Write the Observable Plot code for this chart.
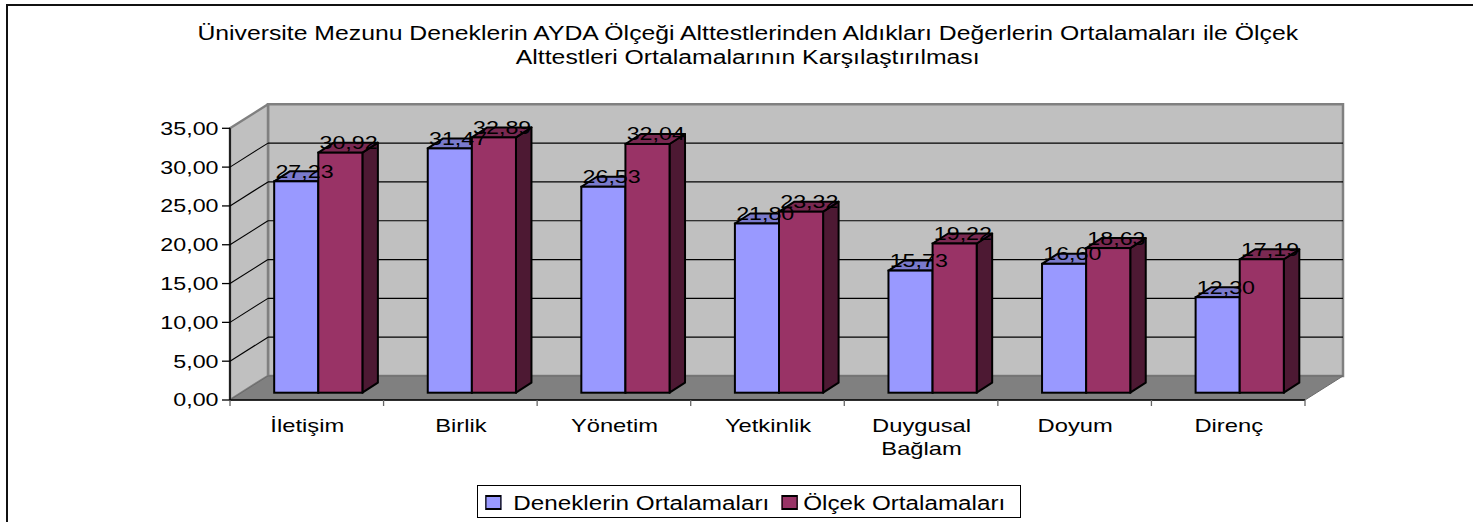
<!DOCTYPE html>
<html>
<head>
<meta charset="utf-8">
<script src="https://cdn.jsdelivr.net/npm/d3@7"></script>
<script src="https://cdn.jsdelivr.net/npm/@observablehq/plot@0.6"></script>
<style>
  html, body { margin: 0; padding: 0; background: #fff; overflow: hidden; width: 1473px; height: 522px; }
  #frame { position: absolute; left: 6px; top: 4px; width: 1490px; height: 560px; border: 2px solid #111; box-sizing: border-box; }
  #title { position: absolute; left: 0; top: 20.5px; width: 1496px; text-align: center;
           font-family: "Liberation Sans", Arial, sans-serif; font-size: 19.5px; line-height: 24.5px; color: #000;
           transform: scaleX(1.27); transform-origin: 749px 0; }
  #chart { position: absolute; left: 0; top: 80px; }
  #legend { position: absolute; left: 477px; top: 485px; width: 544px; height: 33px; border: 1px solid #000; box-sizing: border-box; background: #fff; }
  #legend .inner { position: absolute; left: 6px; top: 0; width: 440px; height: 31px; transform: scaleX(1.25); transform-origin: 0 0;
                   font-family: "Liberation Sans", Arial, sans-serif; font-size: 19.4px; color: #000; }
  #legend .sw { position: absolute; top: 9px; width: 13.6px; height: 15px; box-sizing: border-box; border-style: solid; border-color: #000; border-width: 2px 1.6px; }
  #legend .lab { position: absolute; top: 6.4px; line-height: 22px; white-space: nowrap; }
</style>
</head>
<body>
<div id="frame"></div>
<div id="title"></div>
<div id="chart"></div>
<div id="legend"><div class="inner"></div></div>
<script>
// ---------- data ----------
const titleLines = [
  "Üniversite Mezunu Deneklerin AYDA Ölçeği Alttestlerinden Aldıkları Değerlerin Ortalamaları ile Ölçek",
  "Alttestleri Ortalamalarının Karşılaştırılması"
];
const categories = ["İletişim", "Birlik", "Yönetim", "Yetkinlik", "Duygusal Bağlam", "Doyum", "Direnç"];
const categoryLabels = ["İletişim", "Birlik", "Yönetim", "Yetkinlik", "Duygusal\nBağlam", "Doyum", "Direnç"];
const seriesNames = ["Deneklerin Ortalamaları", "Ölçek Ortalamaları"];
const deneklerin = [27.23, 31.47, 26.53, 21.80, 15.73, 16.60, 12.30];
const olcek = [30.92, 32.89, 32.04, 23.32, 19.22, 18.63, 17.19];
const yTicks = [0, 5, 10, 15, 20, 25, 30, 35];

// ---------- styling / layout ----------
const W = 1473, H = 400, ML = 230, MR = 168, MT = 48.3, MB = 80;
const BACK_DX = 38, BACK_DY = -24;       // depth of the 3D box
const FRONT_DX = 11.5, FRONT_DY = -7.3;  // bar front face offset inside the box
const BAR_DX = 15.5, BAR_DY = -10;       // bar depth
const BAR_W = 44.1;
const BAND = (W - ML - MR) / categories.length;
const INSET = (BAND - 2 * BAR_W) / 2;
const STRETCH = 1.25;

const seriesStyle = [
  {values: deneklerin, front: "#9999FF", top: "#7A7ACC", side: "#4C4C80"},
  {values: olcek, front: "#993366", top: "#7A2952", side: "#4D1933"}
];
const fmt = v => v.toFixed(2).replace(".", ",");
const poly = pts => "M" + pts.map(p => p.join(",")).join("L") + "Z";

// title
document.getElementById("title").innerHTML = titleLines.join("<br>");

// legend
const inner = document.querySelector("#legend .inner");
const legendPos = [{sw: 0.8, lab: 23.4}, {sw: 237.6, lab: 255.4}];
seriesNames.forEach((name, i) => {
  const sw = document.createElement("div");
  sw.className = "sw"; sw.style.left = legendPos[i].sw + "px"; sw.style.background = seriesStyle[i].front;
  inner.appendChild(sw);
  const lab = document.createElement("div");
  lab.className = "lab"; lab.style.left = legendPos[i].lab + "px"; lab.textContent = name;
  inner.appendChild(lab);
});

// 3D box: walls, floor, gridlines, axes
function backdrop(index, scales, values, dims) {
  const {x, y} = scales;
  const x0 = dims.marginLeft, x1 = dims.width - dims.marginRight;
  const y0 = y(0), yT = y(d3.max(yTicks));
  const g = d3.create("svg:g");
  g.append("path").attr("d", poly([[x0 + BACK_DX, yT + BACK_DY], [x1 + BACK_DX, yT + BACK_DY], [x1 + BACK_DX, y0 + BACK_DY], [x0 + BACK_DX, y0 + BACK_DY]]))
    .attr("fill", "#C0C0C0").attr("stroke", "#808080").attr("stroke-width", 2.5);
  g.append("path").attr("d", poly([[x0, y0], [x0, yT], [x0 + BACK_DX, yT + BACK_DY], [x0 + BACK_DX, y0 + BACK_DY]]))
    .attr("fill", "#C0C0C0").attr("stroke", "#808080").attr("stroke-width", 2.5).attr("stroke-linejoin", "round");
  yTicks.filter(v => v > 0 && v < d3.max(yTicks)).forEach(v => {
    const yy = y(v);
    g.append("path").attr("d", `M${x0 + BACK_DX},${yy + BACK_DY}L${x1 + BACK_DX},${yy + BACK_DY}`).attr("stroke", "#000").attr("stroke-width", 1.2);
    g.append("path").attr("d", `M${x0},${yy}L${x0 + BACK_DX},${yy + BACK_DY}`).attr("stroke", "#000").attr("stroke-width", 1.1);
  });
  g.append("path").attr("d", poly([[x0, y0], [x1, y0], [x1 + BACK_DX, y0 + BACK_DY], [x0 + BACK_DX, y0 + BACK_DY]]))
    .attr("fill", "#808080").attr("stroke", "#6a6a6a").attr("stroke-width", 1);
  g.append("path").attr("d", `M${x0},${y0}L${x0},${yT}`).attr("stroke", "#000").attr("stroke-width", 1.5);
  yTicks.forEach(v => {
    g.append("path").attr("d", `M${x0 - 8},${y(v)}L${x0},${y(v)}`).attr("stroke", "#000").attr("stroke-width", 1.3);
  });
  g.append("path").attr("d", `M${x0},${y0}L${x1},${y0}`).attr("stroke", "#000").attr("stroke-width", 1.5);
  const bounds = categories.map(c => x(c)).concat([x1]);
  bounds.forEach(bx => {
    g.append("path").attr("d", `M${bx},${y0}L${bx},${y0 + 6}`).attr("stroke", "#666").attr("stroke-width", 1.3);
  });
  return g.node();
}

// bar tops and sides
function barDepth(index, scales, values, dims) {
  const {x, y} = scales;
  const g = d3.create("svg:g").attr("stroke", "#000").attr("stroke-width", 2).attr("stroke-linejoin", "round");
  seriesStyle.forEach((s, si) => {
    categories.forEach((c, i) => {
      const v = s.values[i];
      const L = x(c) + INSET + si * BAR_W + FRONT_DX, R = L + BAR_W;
      const T = y(v) + FRONT_DY, B = y(0) + FRONT_DY;
      g.append("path").attr("d", poly([[R, T], [R + BAR_DX, T + BAR_DY], [R + BAR_DX, B + BAR_DY], [R, B]])).attr("fill", s.side);
      g.append("path").attr("d", poly([[L, T], [R, T], [R + BAR_DX, T + BAR_DY], [L + BAR_DX, T + BAR_DY]])).attr("fill", s.top);
    });
  });
  return g.node();
}

const barMarks = seriesStyle.map((s, si) =>
  Plot.barY(categories, {
    x: d => d, y: (d, i) => s.values[i],
    fill: s.front, stroke: "#000", strokeWidth: 2,
    insetLeft: INSET + si * BAR_W, insetRight: INSET + (1 - si) * BAR_W,
    dx: FRONT_DX, dy: FRONT_DY
  })
);

const labelMarks = seriesStyle.map((s, si) =>
  Plot.text(categories, {
    x: d => d, y: (d, i) => s.values[i],
    text: (d, i) => fmt(s.values[i]),
    dx: (si === 0 ? -BAR_W / 2 : BAR_W / 2) + FRONT_DX + BAR_DX / 2,
    dy: FRONT_DY - 4,
    lineAnchor: "bottom", textAnchor: "middle",
    fontSize: 18.6, fill: "#000"
  })
);

const svg = Plot.plot({
  width: W, height: H,
  marginLeft: ML, marginRight: MR, marginTop: MT, marginBottom: MB,
  x: {type: "band", domain: categories, padding: 0, round: false, axis: null},
  y: {domain: [0, 35], axis: null},
  style: {fontFamily: "'Liberation Sans', Arial, sans-serif", fontSize: "19px", background: "transparent", overflow: "visible", color: "#000"},
  marks: [
    backdrop,
    barDepth,
    ...barMarks,
    ...labelMarks,
    Plot.text(yTicks, {y: d => d, frameAnchor: "left", dx: -12, textAnchor: "end", text: fmt, fontSize: 18.6, fill: "#000"}),
    Plot.text(categories, {x: d => d, frameAnchor: "bottom", text: (d, i) => categoryLabels[i], lineAnchor: "top", dy: 15.5, lineHeight: 1.21, fontSize: 19, fill: "#000"})
  ]
});

// Horizontal stretch of all chart texts (the reference fonts are widened)
svg.querySelectorAll("text").forEach(t => {
  let tr = t.getAttribute("transform");
  if (!tr) {
    const xa = t.getAttribute("x") || 0, ya = t.getAttribute("y") || 0;
    t.removeAttribute("x"); t.removeAttribute("y");
    tr = `translate(${xa},${ya})`;
  }
  t.setAttribute("transform", tr + ` scale(${STRETCH},1)`);
});

document.getElementById("chart").appendChild(svg);
</script>
</body>
</html>
